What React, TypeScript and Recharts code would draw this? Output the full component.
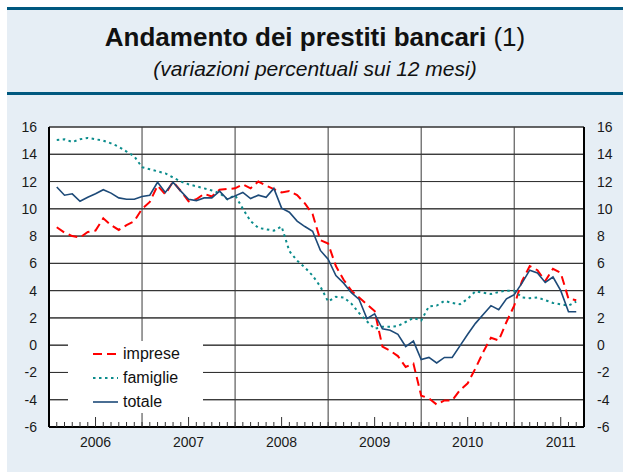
import React from 'react';
import { LineChart, Line, XAxis, YAxis, CartesianGrid, ReferenceLine } from 'recharts';

// variazioni percentuali sui 12 mesi, feb 2006 - set 2011 (valori mensili)
const imprese = [
  8.65, 8.25, 8.0, 7.9, 8.3, 8.4, 9.3, 8.8, 8.45, 8.8, 9.1, 10.0,
  10.5, 11.7, 11.05, 12.0, 11.3, 10.55, 10.7, 11.1, 10.9, 11.4, 11.45, 11.5,
  11.8, 11.5, 12.0, 11.7, 11.45, 11.2, 11.3, 11.0, 10.4, 9.6, 7.7, 7.45,
  5.8, 4.8, 4.0, 3.5, 3.0, 2.5, -0.1, -0.4, -0.8, -1.6, -1.35, -3.7,
  -3.9, -4.35, -4.05, -4.05, -3.3, -2.8, -1.7, -0.5, 0.55, 0.35, 1.7, 2.9,
  4.7, 5.8, 5.5, 4.7, 5.6, 5.3, 3.4, 3.3,
];
const famiglie = [
  15.05, 15.1, 14.9, 15.1, 15.2, 15.1, 15.0, 14.8, 14.55, 14.2, 13.85, 13.05,
  12.9, 12.75, 12.6, 12.3, 12.0, 11.8, 11.65, 11.5, 11.35, 11.15, 10.7, 11.0,
  10.0, 9.1, 8.6, 8.5, 8.4, 8.7, 6.9, 6.2, 5.7, 5.1, 4.3, 3.2,
  3.55, 3.5, 3.05, 2.35, 1.75, 1.2, 1.35, 1.35, 1.4, 1.7, 2.0, 1.8,
  2.85, 2.9, 3.25, 3.1, 3.0, 3.4, 3.95, 3.85, 3.75, 3.9, 4.0, 4.0,
  3.5, 3.45, 3.5, 3.3, 3.1, 3.0, 2.9, 3.2,
];
const totale = [
  11.6, 11.0, 11.1, 10.55, 10.85, 11.1, 11.4, 11.15, 10.8, 10.7, 10.7, 10.9,
  11.0, 11.95, 11.2, 11.95, 11.3, 10.7, 10.6, 10.8, 10.8, 11.3, 10.7, 10.95,
  11.2, 10.75, 11.0, 10.85, 11.5, 10.05, 9.75, 9.1, 8.7, 8.35, 6.95, 6.3,
  5.1, 4.55, 3.85, 3.35, 1.95, 2.3, 1.2, 1.1, 0.8, -0.1, 0.3, -1.05,
  -0.9, -1.3, -0.9, -0.9, -0.05, 0.8, 1.6, 2.25, 2.9, 2.6, 3.4, 3.7,
  4.55, 5.5, 5.3, 4.6, 5.0, 4.0, 2.45, 2.45,
];
const years = ['2006', '2007', '2008', '2009', '2010', '2011'];
const yTicks = [-6, -4, -2, 0, 2, 4, 6, 8, 10, 12, 14, 16];

const series = [
  { key: 'imprese', color: '#ff0000', dash: '9 5', width: 2 },
  { key: 'famiglie', color: '#0b8c8c', dash: '2.5 3.5', width: 2 },
  { key: 'totale', color: '#1d4a78', dash: undefined, width: 1.6 },
];

const data = totale.map((t, i) => ({
  m: i + 1,
  imprese: imprese[i],
  famiglie: famiglie[i],
  totale: t,
}));

const monthTicks = data.map((d) => d.m);
const yearLines = [12, 24, 36, 48, 60];

const PLOT_BOTTOM = 427;
const FONT = 'Arial, "Liberation Sans", Helvetica, sans-serif';

const MonthTick = ({ x, payload }: any) => {
  const m = payload.value as number;
  const mid = m % 12 === 6;
  return (
    <g>
      <line x1={x} x2={x} y1={PLOT_BOTTOM} y2={PLOT_BOTTOM - (mid ? 10 : 5)} stroke="#333" strokeWidth={1} />
      {mid && (
        <text x={x} y={PLOT_BOTTOM + 20} textAnchor="middle" fontSize={14} fill="#1a1a1a" fontFamily={FONT}>
          {years[Math.floor(m / 12)]}
        </text>
      )}
    </g>
  );
};

export default function App() {
  return (
    <div style={{ position: 'absolute', left: 0, top: 0, width: 623, height: 472, background: '#fff', fontFamily: FONT }}>
      <div style={{ position: 'absolute', left: 7, top: 7, right: 0, bottom: 0, background: '#e6eef5' }} />
      <div style={{ position: 'absolute', left: 7, top: 7, right: 0, height: 3, background: '#00587f' }} />
      <div style={{ position: 'absolute', left: 7, top: 92, right: 0, height: 3, background: '#00587f' }} />
      <div style={{ position: 'absolute', left: 7, right: 0, top: 22, textAlign: 'center', fontSize: 26, color: '#111', lineHeight: '30px' }}>
        <b>Andamento dei prestiti bancari</b> (1)
      </div>
      <div style={{ position: 'absolute', left: 7, right: 0, top: 57, textAlign: 'center', fontSize: 21, fontStyle: 'italic', color: '#111', lineHeight: '24px' }}>
        (variazioni percentuali sui 12 mesi)
      </div>

      <div style={{ position: 'absolute', left: 0, top: 0 }}>
        <LineChart width={623} height={472} data={data} margin={{ top: 127, right: 0, bottom: 15, left: 0 }}>
          <CartesianGrid fill="#ffffff" vertical={false} horizontal={true} stroke="#333" strokeWidth={1} />
          <XAxis
            dataKey="m"
            type="number"
            domain={[0, 69]}
            ticks={monthTicks}
            interval={0}
            height={30}
            tickLine={false}
            tick={<MonthTick />}
            axisLine={{ stroke: '#000', strokeWidth: 2 }}
          />
          <YAxis
            domain={[-6, 16]}
            ticks={yTicks}
            interval={0}
            width={49}
            tickLine={false}
            tickMargin={6}
            axisLine={{ stroke: '#000', strokeWidth: 2 }}
            tick={{ fontSize: 14, fill: '#1a1a1a', fontFamily: FONT }}
          />
          <YAxis
            yAxisId="right"
            orientation="right"
            domain={[-6, 16]}
            ticks={yTicks}
            interval={0}
            width={39}
            tickLine={false}
            tickMargin={7}
            axisLine={{ stroke: '#000', strokeWidth: 2 }}
            tick={{ fontSize: 14, fill: '#1a1a1a', fontFamily: FONT, textAnchor: 'start' }}
          />
          {yTicks.slice(1).map((y) => (
            <ReferenceLine key={'h' + y} segment={[{ x: 0, y }, { x: 69, y }]} stroke="#333" strokeWidth={1} />
          ))}
          {yearLines.map((x) => (
            <ReferenceLine key={'v' + x} x={x} stroke="#3a3a3a" strokeWidth={1} />
          ))}
          {series.map((s) => (
            <Line
              key={s.key}
              dataKey={s.key}
              type="linear"
              stroke={s.color}
              strokeWidth={s.width}
              strokeDasharray={s.dash}
              dot={false}
              isAnimationActive={false}
            />
          ))}
          {/* invisible copy so the right-hand axis gets its scale */}
          <Line yAxisId="right" dataKey="totale" stroke="none" dot={false} activeDot={false} isAnimationActive={false} />
        </LineChart>
      </div>

      <div style={{ position: 'absolute', left: 68, top: 341, width: 135, height: 72, background: '#fff' }}>
        {series.map((s, i) => (
          <div key={s.key} style={{ position: 'absolute', left: 0, top: 2 + i * 24, height: 22, display: 'flex', alignItems: 'center' }}>
            <svg width={55} height={22} style={{ display: 'block' }}>
              <line x1={25} x2={50} y1={11} y2={11} stroke={s.color} strokeWidth={s.width} strokeDasharray={s.dash} />
            </svg>
            <span style={{ fontSize: 16, color: '#111' }}>{s.key}</span>
          </div>
        ))}
      </div>
    </div>
  );
}
